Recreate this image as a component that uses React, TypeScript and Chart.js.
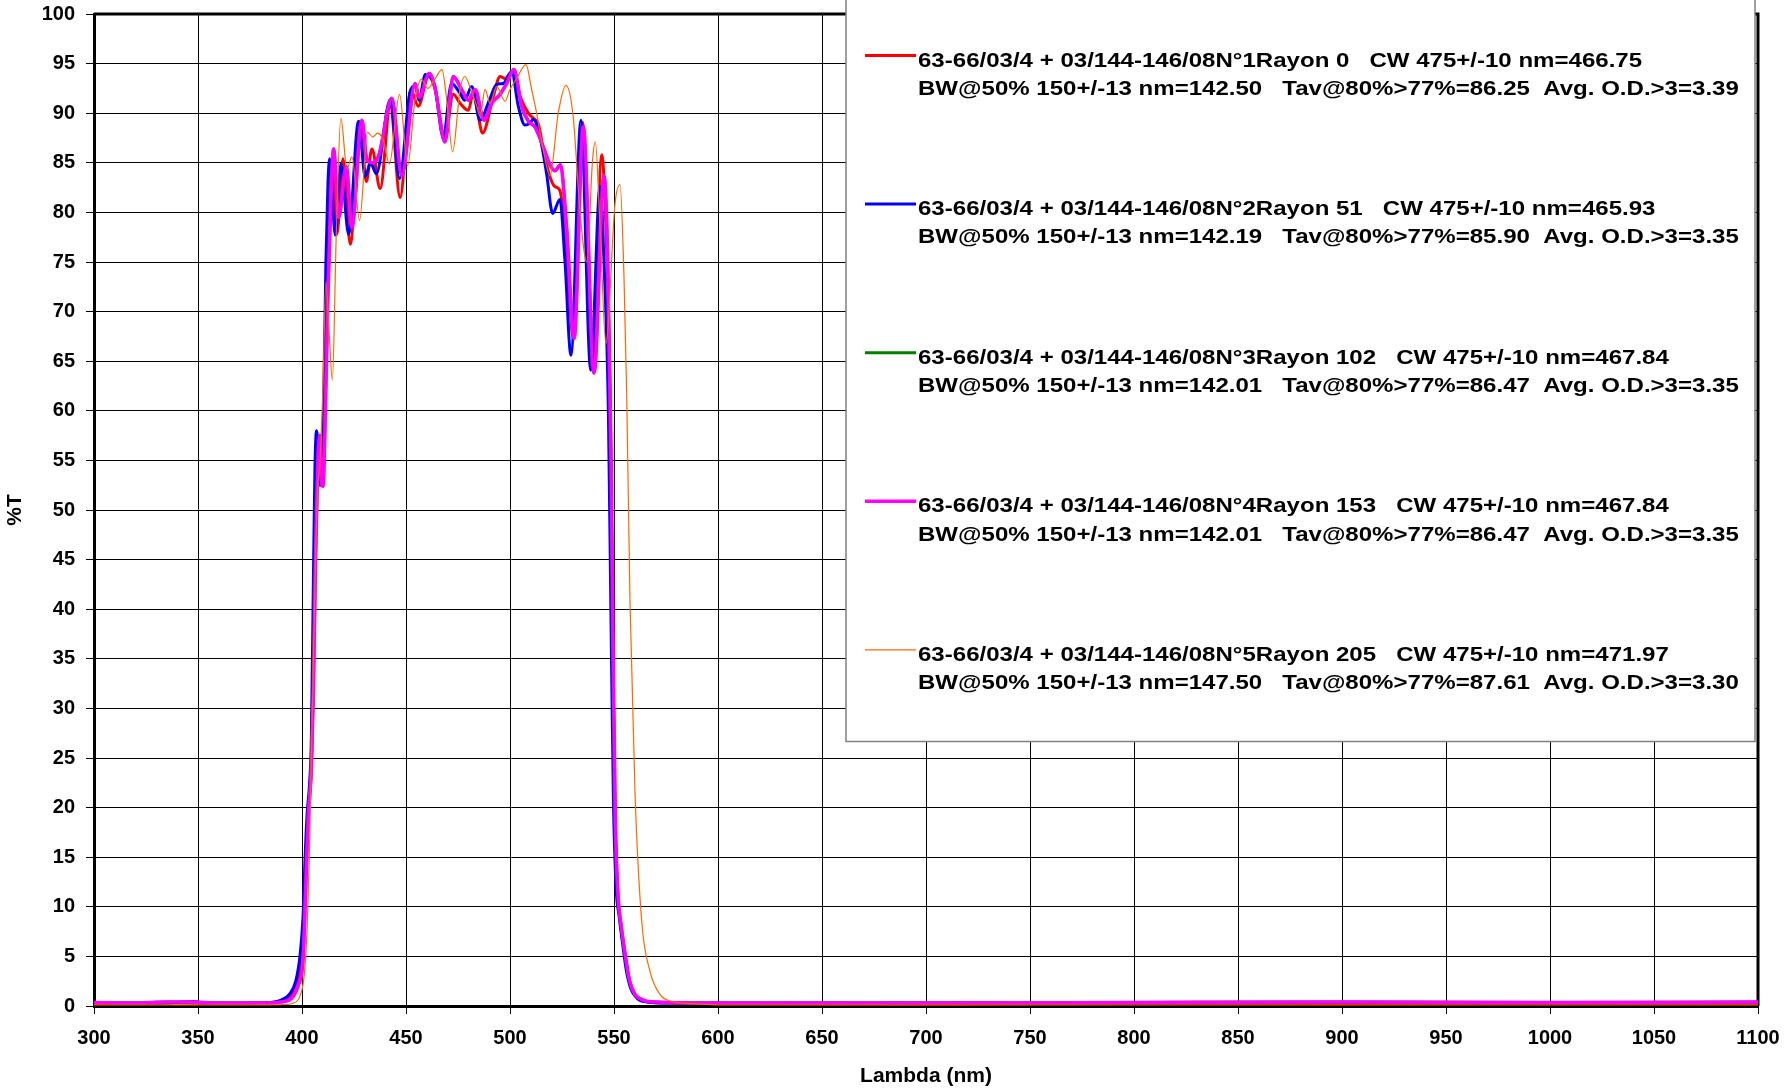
import React, { useEffect, useRef } from "react";
import { Chart, registerables } from "chart.js";

Chart.register(...registerables);

// ---- axes ----
const xMin = 300;
const xMax = 1100;
const xStep = 50;
const yMin = 0;
const yMax = 100;
const yStep = 5;
const xTitle = "Lambda (nm)";
const yTitle = "%T";

// ---- legend text (two lines per series) ----
const legendLine1 = [
  "63-66/03/4 + 03/144-146/08N°1Rayon 0   CW 475+/-10 nm=466.75",
  "63-66/03/4 + 03/144-146/08N°2Rayon 51   CW 475+/-10 nm=465.93",
  "63-66/03/4 + 03/144-146/08N°3Rayon 102   CW 475+/-10 nm=467.84",
  "63-66/03/4 + 03/144-146/08N°4Rayon 153   CW 475+/-10 nm=467.84",
  "63-66/03/4 + 03/144-146/08N°5Rayon 205   CW 475+/-10 nm=471.97",
];
const legendLine2 = [
  "BW@50% 150+/-13 nm=142.50   Tav@80%>77%=86.25  Avg. O.D.>3=3.39",
  "BW@50% 150+/-13 nm=142.19   Tav@80%>77%=85.90  Avg. O.D.>3=3.35",
  "BW@50% 150+/-13 nm=142.01   Tav@80%>77%=86.47  Avg. O.D.>3=3.35",
  "BW@50% 150+/-13 nm=142.01   Tav@80%>77%=86.47  Avg. O.D.>3=3.35",
  "BW@50% 150+/-13 nm=147.50   Tav@80%>77%=87.61  Avg. O.D.>3=3.30",
];
const seriesColors = ["#FF0000", "#0000FF", "#008000", "#FF00FF", "#FF6600"];
const seriesWidths = [3, 3, 3, 3.5, 1.2];

// ---- data: [wavelength nm, %T] ----
const curve1: [number, number][] = [
  [300, 0.25], [320, 0.25], [340, 0.3], [360, 0.25], [380, 0.3], [388, 0.4], [393, 0.8], [396, 1.5],
  [398.5, 3], [400, 6], [401.2, 11], [402.3, 17], [403.5, 21], [404.6, 25], [405.5, 36], [406.5, 49],
  [407.5, 56], [408.5, 54.5], [409.6, 53], [410.8, 60], [412, 72], [413.3, 81], [414.6, 85],
  [416.8, 77.8], [419.7, 85.4], [423.2, 76.8], [428, 89.2], [430.9, 83.1], [433.6, 86.4], [437.6, 82.4],
  [442.4, 90.7], [447.2, 81.5], [452.3, 92.4], [455.9, 90.7], [460.7, 93.7], [463.9, 92.5], [468.7, 87.5],
  [472.7, 91.9], [476, 91], [480, 90.3], [482.5, 92.2], [484.5, 90], [486.8, 88], [492, 91.7],
  [495.2, 93.7], [497.6, 93.5], [501.3, 94.2], [504.8, 91.7], [508.8, 90], [511.2, 89.5], [513.8, 88.8],
  [516, 86.3], [519.2, 83.6], [521.6, 82.6], [524, 82.2], [527, 77], [530.4, 67.4], [534.9, 89.1],
  [539.7, 64.1], [544.1, 85.8], [546.2, 78], [548.1, 61.7], [549.2, 40], [550.3, 21], [551.5, 12],
  [553, 8.5], [555, 5.5], [557, 3], [559, 1.5], [562, 0.7], [567, 0.4], [575, 0.3], [600, 0.25],
  [700, 0.2], [800, 0.25], [900, 0.25], [1000, 0.25], [1100, 0.25],
];

const curve2: [number, number][] = [
  [300, 0.35], [320, 0.3], [340, 0.35], [348, 0.45], [352, 0.3], [370, 0.3], [385, 0.35], [390, 0.6],
  [394, 1.2], [397, 2.5], [399, 5], [400.5, 9], [401.5, 15], [402.5, 19.5], [403.5, 22], [404.5, 27],
  [405.3, 40], [406.2, 54], [407, 58], [407.8, 56], [408.6, 52.5], [409.5, 53], [410.5, 62], [411.5, 75],
  [412.5, 83], [413.3, 85.4], [416, 77.7], [418.7, 84.9], [422.4, 77.8], [427.2, 89.2], [430.4, 83.6],
  [433, 85], [435.7, 83.9], [442.4, 91.35], [446.9, 83.4], [452, 92.2], [454.5, 92.8], [456.2, 91.3],
  [459.3, 93.9], [461.5, 93.7], [463.9, 92.7], [467.9, 87.6], [471.9, 93], [476, 92], [478.2, 91.3],
  [481.6, 92.7], [485.6, 89.3], [490.4, 91.5], [493.6, 92.9], [496.8, 93], [500.8, 94.2], [504, 90.7],
  [507.2, 88.8], [509.6, 89], [511.2, 89.4], [514.4, 87.6], [517.6, 83.9], [520.5, 79.9], [524, 81.3],
  [526.4, 75.2], [529.3, 65.6], [534.1, 89.3], [538.8, 64.1], [543.3, 82.6], [545.2, 75], [547.3, 60],
  [548.5, 40], [549.7, 21], [551, 12], [552.5, 9], [554, 6.5], [556, 3.5], [558, 1.8], [561, 0.8],
  [566, 0.4], [575, 0.3], [600, 0.3], [700, 0.3], [800, 0.3], [900, 0.35], [1000, 0.3], [1100, 0.35],
];

// N°3 and N°4 read identical in the reference (same legend figures, green hidden under magenta)
const curve3: [number, number][] = [
  [300, 0.35], [320, 0.3], [335, 0.4], [345, 0.4], [360, 0.3], [385, 0.3], [390, 0.4], [395, 0.8],
  [398, 2], [400.6, 5], [401.8, 12], [403, 19], [404.5, 24], [405.5, 32], [406.5, 45], [407.5, 54],
  [408.6, 57.5], [409.3, 53], [410.1, 52.4], [411, 58], [412.5, 72], [414, 82], [415.2, 86.4],
  [417.6, 79.5], [421.3, 84.6], [424, 78.5], [428.8, 89.3], [431.2, 85.3], [434, 85], [437, 85.8],
  [443.2, 91.5], [448, 83.7], [454.4, 93], [456.3, 91.6], [461.2, 94], [464, 92.5], [468.7, 87.1],
  [472.7, 93.7], [476.7, 92.4], [480, 91.3], [483.2, 92.4], [487.5, 89.3], [491.2, 91], [495.2, 91.9],
  [498.4, 93], [501.9, 94.4], [505.6, 90.7], [508.8, 89.2], [512, 88.6], [516, 86.6], [519.2, 84.8],
  [521.6, 84.2], [524.2, 84.8], [527.2, 78.5], [530.8, 67.3], [535.2, 88.6], [540.4, 63.8],
  [545.2, 83.7], [547, 75], [548.6, 55], [549.6, 35], [550.6, 19], [552, 11], [553.5, 8], [555.5, 5],
  [557.5, 2.5], [560, 1.2], [564, 0.6], [570, 0.4], [600, 0.3], [700, 0.3], [800, 0.35], [900, 0.4],
  [1000, 0.35], [1100, 0.4],
];
const curve4: [number, number][] = curve3;

const curve5: [number, number][] = [
  [300, 0.1], [330, 0.1], [360, 0.1], [385, 0.1], [392, 0.15], [396, 0.3], [399, 1], [401, 3],
  [402.5, 8], [403.5, 15], [404.5, 25], [405.5, 35], [406.5, 45], [407.5, 52], [408.7, 55], [410, 62],
  [411.5, 73], [413, 68], [414.6, 63.1], [416.5, 78], [418.7, 89.5], [421.6, 84.4], [424, 85.6],
  [427.7, 79.2], [431.5, 88.1], [434, 87.6], [436.3, 88], [439, 87.3], [442, 84.9], [446.9, 91.9],
  [450.8, 84.7], [454.3, 91.3], [457.5, 93.4], [460.5, 92.5], [463.5, 93.3], [467.3, 94.4],
  [469.5, 91.5], [472.4, 86.1], [476, 92.4], [478.3, 93.7], [481, 92.5], [484, 90.7], [485.6, 89.7],
  [488, 92.4], [490.4, 91], [493.6, 92.7], [497.6, 91.2], [500, 92.4], [503.2, 93.5], [507.7, 94.9],
  [510.4, 92.4], [512.8, 90], [516, 86.3], [519.2, 83.7], [523.2, 90], [526.9, 92.8], [530.4, 89.6],
  [533.6, 80.2], [536.9, 75], [539.7, 85.3], [541, 87.1], [543.3, 78.5], [546.1, 66.8], [550.5, 80.9],
  [552.9, 82.8], [554.8, 73.5], [556.1, 61.7], [557.7, 40.7], [560.1, 21.5], [563.3, 8.6],
  [567.3, 3.5], [572, 1.2], [577, 0.5], [590, 0.2], [600, 0.1], [700, 0.1], [800, 0.1], [900, 0.1],
  [1000, 0.1], [1100, 0.1],
];

const curves = [curve1, curve2, curve3, curve4, curve5];

const FONT = "'Liberation Sans', Arial, Helvetica, sans-serif";

const framePlugin = {
  id: "frame",
  beforeDatasetsDraw(chart: any) {
    const { ctx, chartArea: a } = chart;
    ctx.save();
    ctx.strokeStyle = "#000";
    ctx.lineWidth = 3;
    ctx.beginPath();
    ctx.moveTo(a.left, a.top);
    ctx.lineTo(a.right, a.top);
    ctx.lineTo(a.right, a.bottom);
    ctx.stroke();
    ctx.restore();
  },
};

const legendPlugin = {
  id: "boxLegend",
  afterDraw(chart: any) {
    const { ctx, chartArea: a } = chart;
    const boxLeft = 846;
    const boxRight = a.right - 3;
    const boxTop = -5;
    const boxBottom = 741.5;
    ctx.save();
    ctx.fillStyle = "#fff";
    ctx.fillRect(boxLeft, boxTop, boxRight - boxLeft, boxBottom - boxTop);
    ctx.strokeStyle = "#808080";
    ctx.lineWidth = 1.5;
    ctx.strokeRect(boxLeft, boxTop, boxRight - boxLeft, boxBottom - boxTop);

    const firstBase = 66.5;
    const entryGap = 148.6;
    const lineGap = 28.3;
    const textX = 918;
    chart.data.datasets.forEach((ds: any, i: number) => {
      const base = firstBase + i * entryGap;
      ctx.strokeStyle = ds.borderColor;
      ctx.lineWidth = ds.borderWidth;
      ctx.beginPath();
      ctx.moveTo(865, base - 11);
      ctx.lineTo(916, base - 11);
      ctx.stroke();
      ctx.save();
      ctx.translate(textX, base);
      ctx.scale(1.145, 1);
      ctx.fillStyle = "#000";
      ctx.font = `bold 21px ${FONT}`;
      ctx.textBaseline = "alphabetic";
      ctx.textAlign = "left";
      ctx.fillText(legendLine1[i], 0, 0);
      ctx.fillText(legendLine2[i], 0, lineGap);
      ctx.restore();
    });
    ctx.restore();
  },
};

export default function App() {
  const ref = useRef<HTMLCanvasElement>(null);

  useEffect(() => {
    document.body.style.margin = "0";
    document.body.style.overflow = "hidden";
    const canvas = ref.current;
    if (!canvas) return;

    const datasets = curves.map((c, i) => ({
      label: legendLine1[i] + "\n" + legendLine2[i],
      data: c.map(([x, y]) => ({ x, y })),
      borderColor: seriesColors[i],
      backgroundColor: seriesColors[i],
      borderWidth: seriesWidths[i],
      pointRadius: 0,
      fill: false,
      tension: 0.4,
      cubicInterpolationMode: "monotone" as const,
      order: curves.length - i,
    }));

    const tickFont = { family: FONT, size: 20, weight: "bold" as const };
    const titleFont = { family: FONT, size: 21, weight: "bold" as const };

    const chart = new Chart(canvas, {
      type: "line",
      data: { datasets },
      options: {
        responsive: false,
        animation: false,
        devicePixelRatio: 1,
        events: [],
        layout: { padding: { left: 0, right: 26, top: 14, bottom: 0 } },
        plugins: {
          legend: { display: false },
          tooltip: { enabled: false },
          title: { display: false },
        },
        scales: {
          x: {
            type: "linear",
            min: xMin,
            max: xMax,
            ticks: {
              stepSize: xStep,
              color: "#000",
              font: tickFont,
              padding: 12,
              maxRotation: 0,
              autoSkip: false,
              callback: (v: any) => String(v),
            },
            grid: { color: "#000", lineWidth: 1, tickLength: 8, drawTicks: true },
            border: { display: true, color: "#000", width: 3 },
            title: {
              display: true,
              text: xTitle,
              color: "#000",
              font: titleFont,
              padding: { top: 4, bottom: 0 },
            },
            afterFit: (s: any) => {
              s.height = 83;
              s.paddingLeft = 0;
              s.paddingRight = 0;
            },
          },
          y: {
            type: "linear",
            min: yMin,
            max: yMax,
            ticks: {
              stepSize: yStep,
              color: "#000",
              font: tickFont,
              padding: 11,
              autoSkip: false,
              callback: (v: any) => String(v),
            },
            grid: { color: "#000", lineWidth: 1, tickLength: 8, drawTicks: true },
            border: { display: true, color: "#000", width: 3 },
            title: {
              display: true,
              text: yTitle,
              color: "#000",
              font: titleFont,
              padding: { top: 3, bottom: 4 },
            },
            afterFit: (s: any) => {
              s.width = 94;
              s.paddingTop = 0;
              s.paddingBottom = 0;
            },
          },
        },
      },
      plugins: [framePlugin, legendPlugin],
    } as any);

    return () => chart.destroy();
  }, []);

  return (
    <div style={{ width: 1784, height: 1089, background: "#fff" }}>
      <canvas ref={ref} width={1784} height={1089} style={{ display: "block", width: 1784, height: 1089 }} />
    </div>
  );
}
